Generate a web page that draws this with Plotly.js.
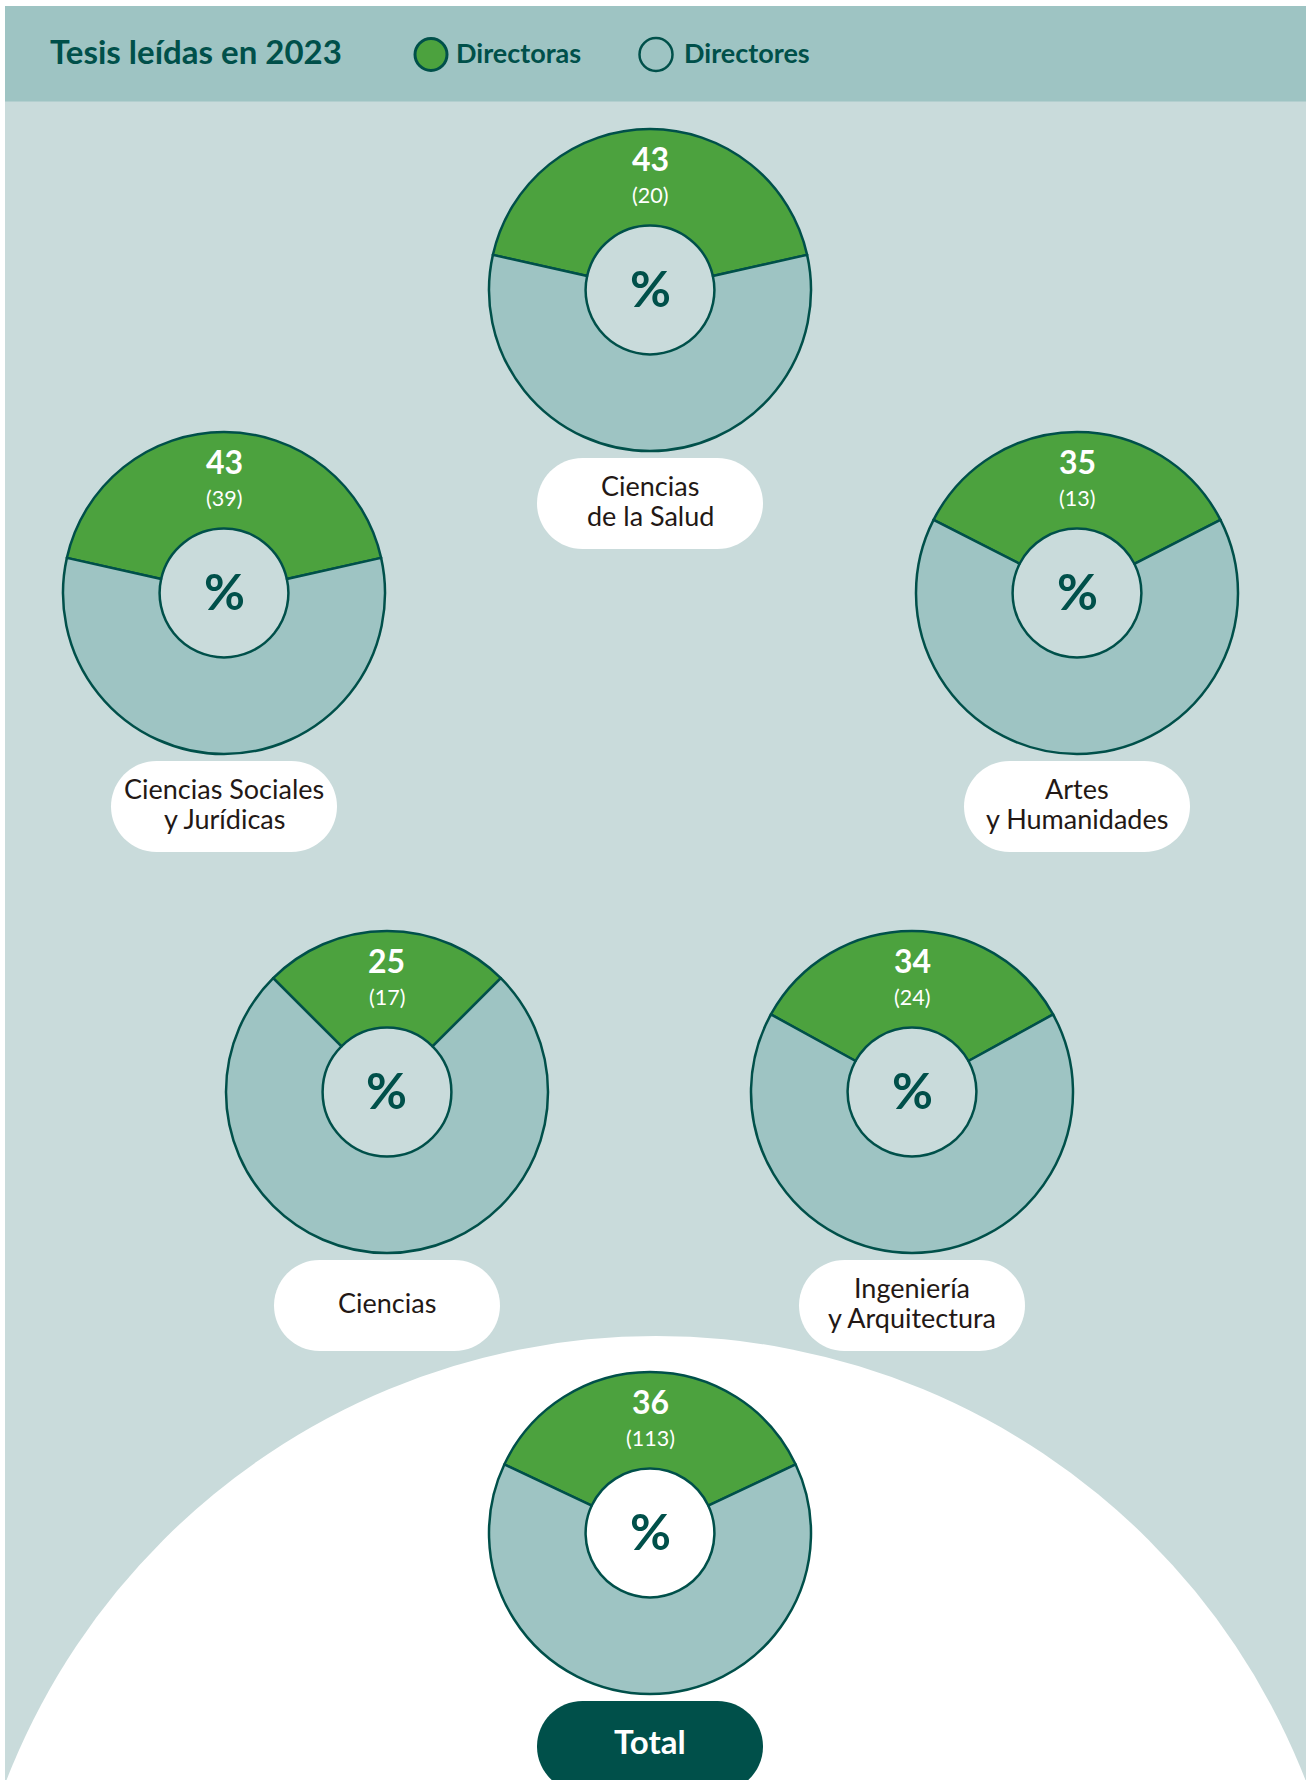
<!DOCTYPE html>
<html>
<head>
<meta charset="utf-8">
<script src="https://cdn.plot.ly/plotly-3.0.1.min.js"></script>
<style>
  html, body { margin: 0; padding: 0; background: #ffffff; }
  #chart { width: 1313px; height: 1780px; }
</style>
</head>
<body>
<div id="chart"></div>
<script>
// ---------------- DATA ----------------
const chartTitle = 'Tesis leídas en 2023';
const seriesNames = ['Directoras', 'Directores'];
const categories = ['Ciencias de la Salud', 'Ciencias Sociales y Jurídicas', 'Artes y Humanidades', 'Ciencias', 'Ingeniería y Arquitectura', 'Total'];
const categoryLines = [
  ['Ciencias', 'de la Salud'],
  ['Ciencias Sociales', 'y Jurídicas'],
  ['Artes', 'y Humanidades'],
  ['Ciencias'],
  ['Ingeniería', 'y Arquitectura'],
  ['Total']
];
const pctDirectoras = [43, 43, 35, 25, 34, 36];
const pctDirectores = [57, 57, 65, 75, 66, 64];
const countDirectoras = [20, 39, 13, 17, 24, 113];

// ---------------- LAYOUT / STYLE ----------------
const W = 1313, H = 1780;
const FONT = 'Lato, "Noto Sans", "Open Sans", sans-serif';
const C_GREEN = '#4ca23e';
const C_LIGHT = '#9ec4c3';
const C_BG = '#c9dbdb';
const C_DARK = '#00504a';
const C_LABEL = '#231815';

// donut centres (pixels) and sizes
const centers = [[650, 290], [224, 593], [1077, 593], [387, 1092], [912, 1092], [650, 1533]];
const R = 161;
const HOLE = 0.4;

const px = x => x / W;
const py = y => 1 - y / H;

function pillPath(cx, cy, w, h) {
  const r = h / 2, k = 0.5523 * r;
  const x0 = cx - w / 2, x1 = cx + w / 2, y0 = cy - h / 2, y1 = cy + h / 2;
  const P = (x, y) => px(x) + ',' + py(y);
  return 'M' + P(x0 + r, y0) +
    ' L' + P(x1 - r, y0) +
    ' C' + P(x1 - r + k, y0) + ' ' + P(x1, cy - k) + ' ' + P(x1, cy) +
    ' C' + P(x1, cy + k) + ' ' + P(x1 - r + k, y1) + ' ' + P(x1 - r, y1) +
    ' L' + P(x0 + r, y1) +
    ' C' + P(x0 + r - k, y1) + ' ' + P(x0, cy + k) + ' ' + P(x0, cy) +
    ' C' + P(x0, cy - k) + ' ' + P(x0 + r - k, y0) + ' ' + P(x0 + r, y0) + ' Z';
}

const traces = categories.map((cat, i) => {
  const [cx, cy] = centers[i];
  return {
    type: 'pie',
    name: cat,
    labels: seriesNames,
    values: [pctDirectoras[i], pctDirectores[i]],
    sort: false,
    direction: 'clockwise',
    rotation: -pctDirectoras[i] * 1.8,
    hole: HOLE,
    textinfo: 'none',
    hovertemplate: cat + '<br>%{label}: %{value}%<extra></extra>',
    showlegend: false,
    marker: { colors: [C_GREEN, C_LIGHT], line: { color: C_DARK, width: 2.5 } },
    domain: { x: [px(cx - R), px(cx + R)], y: [py(cy + R), py(cy - R)] }
  };
});

const shapes = [
  // panel background
  { type: 'rect', xref: 'paper', yref: 'paper', x0: px(5), x1: px(1306), y0: py(1780), y1: py(6),
    fillcolor: C_BG, line: { width: 0 }, layer: 'below' },
  // header band
  { type: 'rect', xref: 'paper', yref: 'paper', x0: px(5), x1: px(1306), y0: py(101.5), y1: py(6),
    fillcolor: C_LIGHT, line: { width: 0 }, layer: 'below' },
  // big white arc behind the total
  { type: 'circle', xref: 'paper', yref: 'paper', x0: px(656 - 697), x1: px(656 + 697), y0: py(2033 + 697), y1: py(2033 - 697),
    fillcolor: '#ffffff', line: { width: 0 }, layer: 'below' },
  // legend markers
  { type: 'circle', xref: 'paper', yref: 'paper', x0: px(431 - 16), x1: px(431 + 16), y0: py(54.5 + 16), y1: py(54.5 - 16),
    fillcolor: C_GREEN, line: { color: C_DARK, width: 3 }, layer: 'above' },
  { type: 'circle', xref: 'paper', yref: 'paper', x0: px(656 - 16.5), x1: px(656 + 16.5), y0: py(54.5 + 16.5), y1: py(54.5 - 16.5),
    fillcolor: 'rgba(0,0,0,0)', line: { color: C_DARK, width: 2.5 }, layer: 'above' }
];

const annotations = [
  { text: '<b>' + chartTitle + '</b>', xref: 'paper', yref: 'paper', x: px(48), y: py(50.5), xanchor: 'left', yanchor: 'middle',
    showarrow: false, font: { family: FONT, size: 33, color: C_DARK } },
  { text: '<b>' + seriesNames[0] + '</b>', xref: 'paper', yref: 'paper', x: px(454), y: py(52), xanchor: 'left', yanchor: 'middle',
    showarrow: false, font: { family: FONT, size: 27, color: C_DARK } },
  { text: '<b>' + seriesNames[1] + '</b>', xref: 'paper', yref: 'paper', x: px(682), y: py(52), xanchor: 'left', yanchor: 'middle',
    showarrow: false, font: { family: FONT, size: 27, color: C_DARK } }
];

categories.forEach((cat, i) => {
  const [cx, cy] = centers[i];
  const isTotal = (i === categories.length - 1);
  // percentage value
  annotations.push({ text: '<b>' + pctDirectoras[i] + '</b>', xref: 'paper', yref: 'paper', x: px(cx), y: py(cy - 131.5),
    xanchor: 'center', yanchor: 'middle', showarrow: false, font: { family: FONT, size: 32, color: '#ffffff' } });
  // count
  annotations.push({ text: '(' + countDirectoras[i] + ')', xref: 'paper', yref: 'paper', x: px(cx), y: py(cy - 95.5),
    xanchor: 'center', yanchor: 'middle', showarrow: false, font: { family: FONT, size: 21.5, color: '#ffffff' } });
  // percent sign
  annotations.push({ text: '<b>%</b>', xref: 'paper', yref: 'paper', x: px(cx), y: py(cy - 2.5),
    xanchor: 'center', yanchor: 'middle', showarrow: false, font: { family: FONT, size: 50, color: C_DARK } });
  // pill
  const pcy = cy + 213.5;
  shapes.push({ type: 'path', xref: 'paper', yref: 'paper', path: pillPath(cx, pcy, 226, 91),
    fillcolor: isTotal ? C_DARK : '#ffffff', line: { width: 0 }, layer: 'below' });
  const lines = categoryLines[i];
  const gap = 30.5;
  lines.forEach((ln, j) => {
    const ly = pcy - (isTotal ? 6 : 3) + (j - (lines.length - 1) / 2) * gap;
    annotations.push({ text: isTotal ? '<b>' + ln + '</b>' : ln, xref: 'paper', yref: 'paper', x: px(cx), y: py(ly),
      xanchor: 'center', yanchor: 'middle', showarrow: false,
      font: { family: FONT, size: isTotal ? 33 : 27, color: isTotal ? '#ffffff' : C_LABEL } });
  });
});

const layout = {
  width: W, height: H,
  margin: { l: 0, r: 0, t: 0, b: 0 },
  paper_bgcolor: '#ffffff',
  plot_bgcolor: 'rgba(0,0,0,0)',
  showlegend: false,
  shapes: shapes,
  annotations: annotations,
  font: { family: FONT }
};

Plotly.newPlot('chart', traces, layout, { displayModeBar: false, responsive: false });
</script>
</body>
</html>
